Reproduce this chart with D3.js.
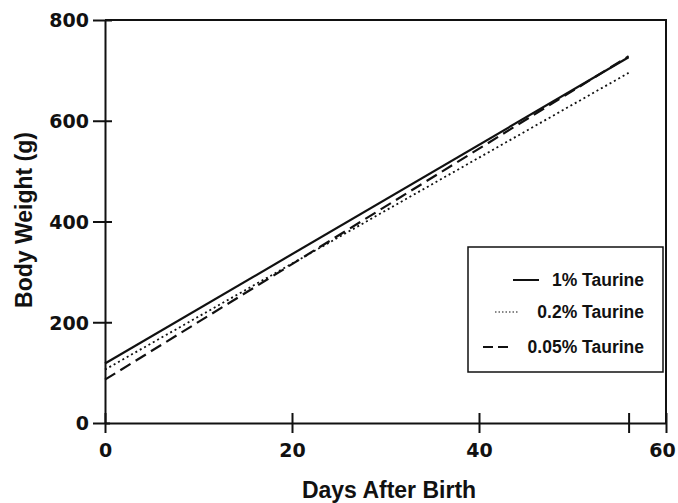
<!DOCTYPE html>
<html>
<head>
<meta charset="utf-8">
<script src="https://cdn.jsdelivr.net/npm/d3@7"></script>
<style>
  body { margin: 0; background: #fff; }
  text { font-family: "Liberation Sans", Arial, sans-serif; font-weight: bold; fill: #111; }
</style>
</head>
<body>
<div id="chart"></div>
<script>
// Data (regression-like lines, day 0 to day 56)
const days = [0, 56];
const taurine1 = [118, 726];
const taurine02 = [106, 695];
const taurine005 = [86, 728];
const seriesNames = ["1% Taurine", "0.2% Taurine", "0.05% Taurine"];
const seriesDash = ["none", "2,3", "12,6"];
const xTicks = [0, 20, 40, 56, 60];
const xTickLabels = ["0", "20", "40", "", "60"];
const yTicks = [0, 200, 400, 600, 800];

const margin = { top: 20, right: 12, bottom: 80, left: 105 };
const width = 678 - margin.left - margin.right;
const height = 503 - margin.top - margin.bottom;

const svg = d3.select("#chart").append("svg")
    .attr("width", 678)
    .attr("height", 503)
    .append("g")
    .attr("transform", "translate(" + margin.left + "," + margin.top + ")");

const x = d3.scaleLinear().domain([0, 60]).range([0, width]);
const y = d3.scaleLinear().domain([0, 800]).range([height, 0]);

// frame top + right
svg.append("path")
    .attr("d", "M0,0H" + width + "V" + height)
    .attr("fill", "none")
    .attr("stroke", "#111")
    .attr("stroke-width", 2);

// x axis, ticks crossing the axis line
const xAxis = d3.axisBottom(x)
    .tickValues(xTicks)
    .tickFormat((d, i) => xTickLabels[i])
    .tickSizeInner(10)
    .tickSizeOuter(0)
    .tickPadding(10);

const gx = svg.append("g")
    .attr("transform", "translate(0," + height + ")")
    .call(xAxis);
gx.selectAll(".tick line").attr("y1", -10);

const yAxis = d3.axisLeft(y)
    .tickValues(yTicks)
    .tickSizeInner(12)
    .tickSizeOuter(0)
    .tickPadding(4);

const gy = svg.append("g").call(yAxis);
gy.selectAll(".tick line").attr("x1", 7);
gy.selectAll(".tick").filter(d => d === 0).select("line").attr("x1", 5);

[gx, gy].forEach(g => {
    g.attr("font-family", null).attr("font-size", null);
    g.select(".domain").attr("stroke", "#111").attr("stroke-width", 2);
    g.selectAll(".tick line").attr("stroke", "#111").attr("stroke-width", 2);
    g.selectAll(".tick text")
        .style("font-family", "'DejaVu Sans', sans-serif")
        .style("font-weight", "bold")
        .style("font-size", "19px")
        .attr("fill", "#111");
});
gy.selectAll(".tick text").attr("dy", "0.36em");
gx.selectAll(".tick text").attr("dy", "0.72em");
// keep the last label inside the page edge
gx.selectAll(".tick").filter(d => d === 60).select("text").attr("dx", -4);

// lines
const line = d3.line()
    .x(d => x(d[0]))
    .y(d => y(d[1]));

const allSeries = [taurine1, taurine02, taurine005];
allSeries.forEach((vals, i) => {
    svg.append("path")
        .datum(days.map((d, j) => [d, vals[j]]))
        .attr("d", line)
        .attr("fill", "none")
        .attr("stroke", "#111")
        .attr("stroke-width", i === 1 ? 1.8 : 2.2)
        .attr("stroke-dasharray", seriesDash[i]);
});

// legend
const legend = svg.append("g")
    .attr("transform", "translate(" + (363) + "," + (227) + ")");

legend.append("rect")
    .attr("width", 195)
    .attr("height", 125)
    .attr("fill", "#fff")
    .attr("stroke", "#111")
    .attr("stroke-width", 1.5);

const rowsY = [33, 65, 100];
const sampleX = [[45, 71], [27, 50], [15, 40]];
seriesNames.forEach((name, i) => {
    legend.append("line")
        .attr("x1", sampleX[i][0])
        .attr("x2", sampleX[i][1])
        .attr("y1", rowsY[i])
        .attr("y2", rowsY[i])
        .attr("stroke", "#111")
        .attr("stroke-width", i === 1 ? 1.2 : 2)
        .attr("stroke-dasharray", i === 1 ? "1.5,2" : (i === 2 ? "10,5" : "none"));
    legend.append("text")
        .attr("x", 176)
        .attr("y", rowsY[i])
        .attr("dy", "0.36em")
        .attr("text-anchor", "end")
        .style("font-size", "17.5px")
        .text(name);
});

// axis titles
svg.append("text")
    .attr("x", 284)
    .attr("y", height + 75)
    .attr("text-anchor", "middle")
    .style("font-size", "23px")
    .text("Days After Birth");

svg.append("text")
    .attr("transform", "translate(" + (-73) + "," + (200) + ") rotate(-90)")
    .attr("text-anchor", "middle")
    .style("font-size", "23px")
    .text("Body Weight (g)");
</script>
</body>
</html>
